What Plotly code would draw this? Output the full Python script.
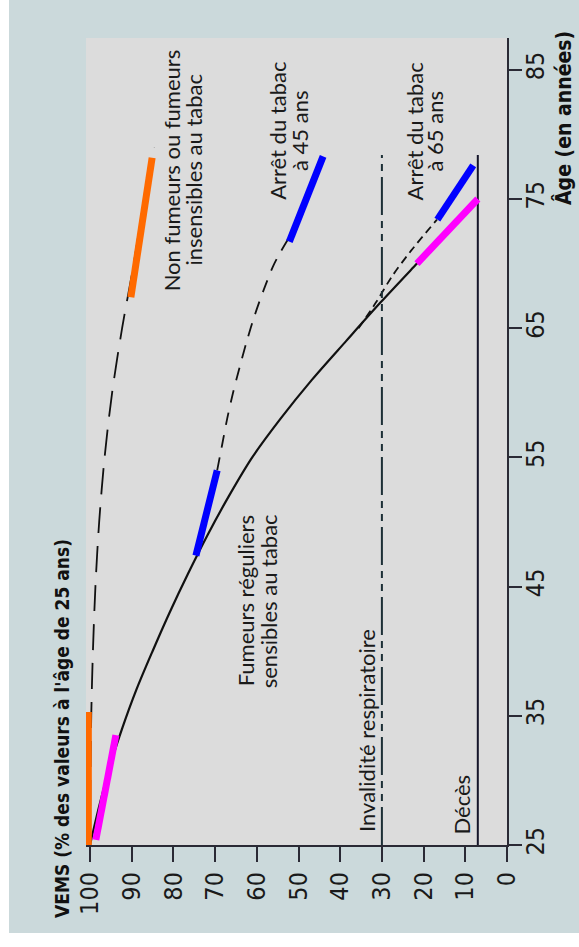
import plotly.graph_objects as go

# ---------------- data ----------------
age_nonsmoker = [25, 30, 35, 40, 45, 50, 55, 60, 65, 70, 75, 79]
vems_nonsmoker = [100, 99.9, 99.7, 99.3, 98.7, 97.8, 96.5, 94.7, 92.3, 89.5, 87.0, 84.6]

age_smoker = [25, 28, 31, 34, 37, 40, 43, 46, 49, 52, 55, 58, 61, 64, 67, 70, 73, 75]
vems_smoker = [100, 97.8, 95.3, 92.3, 88.9, 85.0, 80.9, 76.5, 71.8, 66.7, 61.1, 54.3, 46.8, 38.6, 30.3, 21.6, 12.8, 7.0]

age_stop45 = [54, 56, 58, 60, 62, 64, 66, 68, 70, 72]
vems_stop45 = [69.5, 68.3, 67.1, 65.7, 64.1, 62.4, 60.5, 58.3, 55.8, 52.3]

age_stop65 = [65, 67, 69, 71, 73.4]
vems_stop65 = [35.6, 31.4, 27.6, 23.0, 16.8]

# highlighted segments (start, end)
orange_a_age, orange_a_vems = [24.8, 35.3], [100.4, 100.4]
orange_b_age, orange_b_vems = [67.4, 78.2], [90.2, 85.1]
pink_a_age, pink_a_vems = [25.4, 33.5], [98.6, 93.8]
pink_b_age, pink_b_vems = [70.0, 75.0], [21.6, 7.0]
blue_a_age, blue_a_vems = [47.4, 54.0], [74.6, 69.5]
blue_b_age, blue_b_vems = [71.7, 78.3], [52.2, 44.1]
blue_c_age, blue_c_vems = [73.4, 77.6], [16.7, 8.1]

threshold_age = [25, 78.4]
invalidite_vems = [30, 30]
deces_vems = [7, 7]

vems_ticks = [100, 90, 80, 70, 60, 50, 40, 30, 20, 10, 0]
age_ticks = [25, 35, 45, 55, 65, 75, 85]

# ---------------- layout geometry ----------------
W, H = 579, 947
PX_PER_VEMS, PX_PER_YEAR = 4.17, 12.92
L, R, T, B = 86, 72, 38, 102
PW, PH = W - L - R, H - T - B


def px(xp):
    return (xp - L) / PW


def py(yp):
    return (H - B - yp) / PH


TXT = "Lato, Open Sans, sans-serif"
NARROW = "DejaVu Sans Condensed, Liberation Sans Narrow, Roboto, sans-serif"

fig = go.Figure()


def line(x, y, color, width, dash="solid", shape="linear"):
    fig.add_trace(go.Scatter(x=x, y=y, mode="lines", showlegend=False, hoverinfo="skip",
                             line=dict(color=color, width=width, dash=dash, shape=shape,
                                       smoothing=0.9 if shape == "spline" else None)))


line(vems_nonsmoker, age_nonsmoker, "#111111", 1.8, "26px,13px", "spline")
line(vems_stop45, age_stop45, "#111111", 1.8, "13px,10px", "spline")
line(vems_stop65, age_stop65, "#111111", 1.8, "8px,5px", "spline")
line(vems_smoker, age_smoker, "#111111", 2.2, "solid", "spline")
line(invalidite_vems, threshold_age, "#1c2f36", 2, "38px,6px,7px,6px,7px,6px")
line(deces_vems, threshold_age, "#15152a", 2)

for xa, ya, c in [
    (orange_a_vems, orange_a_age, "#ff6a00"),
    (orange_b_vems, orange_b_age, "#ff6a00"),
    (pink_a_vems, pink_a_age, "#ff00ff"),
    (pink_b_vems, pink_b_age, "#ff00ff"),
    (blue_a_vems, blue_a_age, "#0000ff"),
    (blue_b_vems, blue_b_age, "#0000ff"),
    (blue_c_vems, blue_c_age, "#0000ff"),
]:
    line(xa, ya, c, 7)

# ---------------- text labels ----------------
labels = [
    ("Non fumeurs ou fumeurs", 80.5, 77.24),
    ("insensibles au tabac", 75.2, 77.24),
    ("Arrêt du tabac", 55.2, 80.26),
    ("à 45 ans", 49.9, 80.26),
    ("Arrêt du tabac", 22.2, 80.26),
    ("à 65 ans", 17.4, 80.26),
    ("Fumeurs réguliers", 62.7, 43.9),
    ("sensibles au tabac", 57.2, 43.9),
    ("Invalidité respiratoire", 33.7, 33.86),
    ("Décès", 10.9, 28.1),
]
for t, xv, yv in labels:
    fig.add_annotation(x=xv, y=yv, xref="x", yref="y", text=t, showarrow=False,
                       textangle=-90, xanchor="center", yanchor="middle",
                       font=dict(family=TXT, size=22, color="#1a1a1a"))

fig.add_annotation(x=px(62), y=py(729), xref="paper", yref="paper",
                   text="<b>VEMS (% des valeurs à l'âge de 25 ans)</b>", showarrow=False,
                   textangle=-90, xanchor="center", yanchor="middle",
                   font=dict(family=NARROW, size=19, color="#111111"))
fig.add_annotation(x=px(564), y=py(118), xref="paper", yref="paper",
                   text="<b>Âge (en années)</b>", showarrow=False,
                   textangle=-90, xanchor="center", yanchor="middle",
                   font=dict(family=NARROW, size=21, color="#111111"))

# white scan borders
fig.add_shape(type="rect", xref="paper", yref="paper", x0=px(0), x1=px(9), y0=py(947), y1=py(0),
              fillcolor="white", line=dict(width=0), layer="below")
fig.add_shape(type="rect", xref="paper", yref="paper", x0=px(0), x1=px(579), y0=py(947), y1=py(933),
              fillcolor="white", line=dict(width=0), layer="below")

fig.update_layout(
    width=W, height=H, autosize=False,
    margin=dict(l=L, r=R, t=T, b=B),
    paper_bgcolor="#cbd9db", plot_bgcolor="#dcdcdc",
    showlegend=False,
    xaxis=dict(range=[100 + 4 / PX_PER_VEMS, 0], tickvals=vems_ticks,
               ticktext=[str(v) for v in vems_ticks],
               showgrid=False, zeroline=False, showline=True, linecolor="#2a2a35", linewidth=2,
               ticks="outside", ticklen=15, tickwidth=2, tickcolor="#2a2a35", tickangle=-90,
               ticklabelstandoff=0,
               tickfont=dict(family=NARROW, size=25, color="#1a1a1a")),
    yaxis=dict(range=[25, 25 + (H - B - T) / PX_PER_YEAR], side="right", tickvals=age_ticks,
               showgrid=False, zeroline=False, showline=True, linecolor="#2a2a35", linewidth=2,
               ticks="outside", ticklen=13, tickwidth=2, tickcolor="#2a2a35", tickangle=-90,
               ticklabelstandoff=-8,
               tickfont=dict(family=NARROW, size=25, color="#1a1a1a")),
)

fig.write_html("out.html", config={"displayModeBar": False},
               post_script="document.body.style.margin='0';document.body.style.background='#ffffff';")
